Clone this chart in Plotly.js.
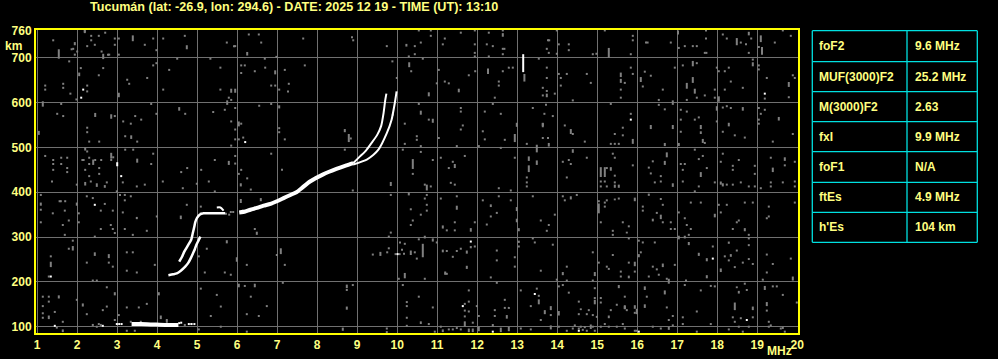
<!DOCTYPE html>
<html>
<head>
<meta charset="utf-8">
<script src="https://cdn.plot.ly/plotly-3.0.1.min.js"></script>
<style>
html,body{margin:0;padding:0;background:#000;}
#chart{width:998px;height:359px;}
</style>
</head>
<body>
<div id="chart"></div>
<script>
// ---------- DATA ----------
const titleText = "Tucumán (lat: -26.9, lon: 294.6) - DATE: 2025 12 19 - TIME (UT): 13:10";
const xTicks = [1,2,3,4,5,6,7,8,9,10,11,12,13,14,15,16,17,18,19,20];
const yTicks = [100,200,300,400,500,600,700,760];

const tableLabels = ["foF2","MUF(3000)F2","M(3000)F2","fxI","foF1","ftEs","h'Es"];
const tableValues = ["9.6 MHz","25.2 MHz","2.63","9.9 MHz","N/A","4.9 MHz","104 km"];

// echo traces (frequency MHz, virtual height km)
const lowAF = [4.28,4.40,4.49,4.59,4.70,4.78,4.84,4.89,4.94,4.98,5.03,5.08];
const lowAH = [215,217,219,225,234,243,253,263,273,283,292,301];
const lowBF = [4.55,4.62,4.68,4.78,4.85,4.89,4.93,4.95,4.99,5.06,5.16,5.41,5.70];
const lowBH = [245,256,268,283,294,309,324,333,342,350,353,353,353];
const curlF = [5.49,5.58,5.66];
const curlH = [366,366,359];
const f2F = [6.05,6.20,6.33,6.49,6.66,6.83,6.99,7.16,7.33,7.48,7.65,7.82,8.15,8.48,8.73,8.90];
const f2H = [355,357,361,365,370,374,380,387,394,400,412,424,440,452,460,465];
const oF = [8.90,9.07,9.22,9.36,9.50,9.60,9.66,9.70,9.73];
const oH = [465,480,493,510,528,548,577,605,620];
const xF = [8.90,9.24,9.40,9.53,9.74,9.86,9.94,9.985];
const xH = [462,473,483,495,532,562,599,625];
const esF = [3.36,3.60,3.90,4.20,4.53];
const esH = [106,106,105,104,104];

const whiteDots = [[2.99,106],[3.05,106],[3.11,106],[4.55,108],[4.60,109],[4.79,106],[4.86,106],[4.93,106],
 [2.15,629],[2.10,611],[6.20,512],[3.10,436],[19.19,620],[15.84,562],[2.44,372],[1.34,212],[1.44,102],
 [10.01,262],[11.84,290],[11.64,146],[12.39,89],[13.44,173],[17.89,252],[18.74,115],[14.54,91],[16.04,89],[2.64,102]];
const whiteSegs = [[3.0,458,467],[13.15,668,708]];

const noiseDots = [
 [2.19,759],[2.35,749],[2.54,749],[2.7,756],[2.94,743],[3.04,743],[3.9,743],[4.15,743],[4.69,749],[1.4,739],[2.35,739],[2.25,726],[2.44,729],[2.94,729],[3.69,729],[5.74,734],[5.92,726],[5.95,726],[6.29,752],[6.54,752],[6.6,734],[1.86,719],[1.9,720],[2.0,714],[1.94,707],[1.8,692],[2.61,714],[2.77,707],[2.8,707],[3.04,707],[3.98,717],[6.98,702],[4.5,698],[5.33,698],[6.69,698],[3.98,688],[3.9,683],[4.3,673],[2.09,677],[2.65,677],[2.54,661],[3.75,655],[3.25,651],[3.3,642],[5.58,678],[6.1,683],[6.19,683],[6.1,666],[6.44,670],[6.7,678],[7.19,673],[1.2,638],[1.2,629],[1.65,642],[1.65,633],[2.25,638],[2.25,625],[1.83,620],[1.98,607],[4.15,629],[5.58,629],[6.85,638],[6.95,638],[7.05,629],[7.29,642],[7.27,625],[5.79,611],[5.85,606],[1.6,597],[1.5,575],[1.65,570],[2.94,570],[3.15,558],[3.45,570],[3.6,562],[3.34,553],[2.25,544],[2.25,534],[3.2,525],[2.3,513],[2.55,513],[3.5,513],[4.7,575],[3.85,597],[3.98,575],[5.4,579],[5.69,584],[5.95,588],[5.85,558],[6.1,553],[5.95,540],[6.15,522],[5.95,518],[6.04,518],[5.85,504],[6.55,593],[6.85,597],[7.05,543],[7.05,534],[7.19,518],[1.2,481],[1.4,472],[1.4,463],[1.4,450],[1.6,477],[1.75,477],[1.6,463],[1.75,454],[1.75,445],[2.25,491],[2.13,472],[2.16,472],[2.3,477],[2.3,463],[2.45,472],[2.6,472],[2.2,450],[2.55,454],[2.3,436],[2.55,441],[2.9,478],[2.85,472],[3.2,495],[3.4,495],[3.9,486],[3.85,463],[4.6,445],[4.75,454],[5.1,450],[5.44,472],[5.95,481],[5.95,464],[6.1,450],[6.04,441],[6.25,431],[6.85,486],[7.12,450],
 [7.65,743],[8.87,746],[8.9,739],[9.74,726],[10.44,726],[10.29,703],[10.44,708],[10.59,734],[10.54,761],[10.84,761],[10.84,749],[11.14,730],[11.19,743],[11.59,756],[11.94,761],[11.94,730],[12.29,756],[12.64,761],[12.24,730],[12.39,726],[11.94,711],[11.94,703],[12.29,703],[12.64,708],[12.64,720],[12.68,720],[7.69,683],[9.88,692],[10.35,670],[10.64,698],[11.04,673],[11.79,661],[11.95,670],[12.54,647],[12.54,638],[12.64,670],[12.79,678],[12.89,678],[13.54,698],[9.99,655],[10.99,643],[11.19,647],[11.29,643],[10.54,597],[11.59,588],[11.59,580],[12.19,580],[12.44,611],[12.39,597],[12.59,575],[13.39,588],[13.64,633],[13.64,616],[9.89,573],[10.19,553],[10.79,562],[11.64,549],[11.59,540],[12.14,536],[12.19,518],[12.69,517],[13.24,508],[13.64,521],[10.49,525],[10.49,517],[11.04,521],[11.49,503],[12.04,503],[10.59,503],[10.19,508],[10.39,441],[10.14,495],[10.59,490],[10.89,472],[11.09,477],[11.39,468],[11.29,454],[11.69,481],[12.59,499],[12.94,477],[13.24,433],[8.69,495],[8.84,520],
 [13.77,739],[13.8,739],[13.74,720],[13.79,711],[13.99,761],[13.99,709],[14.04,730],[14.29,730],[14.29,717],[14.89,708],[14.98,709],[15.19,761],[15.84,708],[15.89,749],[15.89,739],[16.22,734],[16.26,734],[16.84,734],[17.04,722],[17.19,726],[17.39,726],[17.49,726],[17.72,761],[17.72,743],[17.69,711],[17.73,711],[18.14,752],[18.24,743],[18.59,734],[18.85,743],[18.72,730],[18.79,711],[19.04,724],[19.44,734],[19.64,761],[19.84,749],[13.74,678],[13.74,655],[13.74,626],[14.04,664],[14.09,655],[14.24,664],[14.09,638],[13.94,620],[14.39,605],[14.74,664],[14.84,644],[15.69,644],[15.59,629],[15.84,678],[15.89,664],[15.59,611],[16.19,669],[16.14,636],[16.34,660],[16.64,629],[16.54,606],[16.94,678],[17.14,683],[17.49,688],[17.69,616],[17.24,606],[17.49,611],[17.94,629],[17.94,611],[18.04,670],[18.19,670],[18.29,678],[17.99,678],[18.34,647],[18.19,629],[18.64,633],[18.89,696],[19.04,683],[19.04,674],[19.24,655],[19.19,609],[19.89,661],[19.94,655],[19.79,612],[13.72,595],[13.68,575],[13.89,570],[13.77,521],[14.19,549],[14.39,530],[14.69,513],[15.34,597],[15.84,575],[15.64,544],[15.44,530],[15.64,527],[15.34,508],[15.44,508],[15.54,508],[16.54,595],[16.69,585],[17.09,584],[17.24,580],[17.09,562],[17.44,562],[17.54,567],[17.09,535],[17.69,510],[18.14,589],[18.24,592],[18.34,588],[18.14,535],[18.44,527],[18.69,522],[17.99,558],[19.04,588],[19.04,562],[19.09,575],[19.04,553],[19.19,584],[19.39,513],[19.89,530],[14.29,472],[14.14,468],[14.34,463],[14.74,477],[14.24,433],[15.24,454],[15.44,437],[15.39,486],[15.44,477],[15.89,460],[16.39,469],[16.29,455],[16.34,442],[16.59,436],[17.09,463],[17.19,463],[17.14,450],[17.44,495],[17.54,474],[17.64,481],[17.74,454],[18.14,486],[18.09,468],[18.39,459],[18.39,450],[18.54,472],[18.94,459],[18.94,441],[19.34,477],[19.69,460],[19.94,468],
 [1.37,424],[1.99,417],[2.34,424],[2.74,422],[3.14,422],[3.49,413],[3.69,417],[4.14,424],[4.64,409],[4.99,419],[5.29,424],[1.09,394],[1.09,361],[1.09,333],[1.56,380],[1.59,380],[1.7,380],[1.39,353],[1.69,359],[1.64,327],[1.79,337],[2.04,353],[2.04,333],[2.24,391],[2.39,387],[2.69,374],[2.59,359],[2.89,359],[2.99,402],[3.07,394],[3.19,394],[3.19,382],[3.34,391],[3.14,355],[2.84,327],[2.89,318],[2.94,309],[2.59,318],[3.19,318],[3.39,305],[3.74,314],[1.69,305],[2.44,301],[3.99,346],[4.74,372],[5.09,368],[5.09,353],[5.84,356],[6.14,359],[6.44,318],[6.34,406],[5.24,274],[5.04,257],[1.89,292],[1.79,274],[1.34,257],[1.29,212],[2.24,243],[2.79,243],[2.89,234],[3.24,266],[3.39,266],[3.24,225],[3.49,221],[3.94,238],[2.39,203],[2.49,203],[5.09,185],[5.19,221],[5.69,221],[5.84,216],[6.24,238],[6.99,260],[7.19,238],[6.19,191],[6.34,167],[6.74,146],[6.54,124],[7.14,198],[1.14,167],[1.29,167],[1.14,146],[1.29,156],[1.14,130],[1.14,120],[1.44,133],[1.64,111],[1.49,98],[1.99,160],[2.24,128],[2.64,137],[2.74,145],[2.74,188],[3.24,143],[3.54,143],[3.74,151],[4.24,115],[2.94,115],[3.04,126],[3.59,111],[5.49,171],[5.59,145],[6.24,128],[5.04,94],[5.34,124],[5.59,100],[6.24,89],[3.24,91],[3.44,91],[2.39,104],[2.49,100],[2.54,106],[2.59,104],[3.34,111],[4.84,106],[4.69,104],[4.24,111],[5.72,352],[5.80,350],[5.90,356],
 [8.89,404],[9.84,394],[10.69,417],[10.84,413],[10.74,394],[10.69,386],[10.74,372],[10.74,359],[11.34,421],[11.44,417],[11.09,386],[11.49,391],[10.34,362],[10.59,350],[10.39,337],[10.34,327],[11.24,315],[11.44,333],[11.44,315],[11.94,333],[12.14,382],[12.49,354],[12.34,346],[12.24,328],[12.54,409],[12.54,391],[12.84,404],[12.84,382],[13.24,422],[13.24,413],[13.39,391],[13.59,337],[13.39,297],[13.44,288],[9.84,310],[9.79,301],[10.07,288],[10.19,285],[9.39,261],[9.75,266],[9.79,275],[9.96,262],[10.06,262],[10.12,272],[10.17,263],[10.44,266],[10.49,252],[10.54,295],[10.99,288],[11.24,269],[11.39,256],[11.49,269],[11.59,274],[11.94,279],[11.2,218],[11.24,218],[11.2,221],[10.04,207],[10.69,207],[12.49,270],[12.49,248],[12.34,210],[12.49,198],[12.94,255],[12.94,234],[13.04,279],[13.59,225],[8.89,193],[8.74,182],[10.14,193],[10.24,155],[10.24,146],[10.54,167],[10.24,120],[10.24,102],[10.89,143],[10.79,106],[9.74,96],[9.74,88],[10.94,89],[11.09,100],[11.29,94],[11.39,94],[11.49,97],[11.59,94],[11.69,151],[11.69,136],[11.69,123],[11.79,181],[11.79,156],[11.79,134],[11.89,109],[11.99,146],[12.04,124],[12.44,137],[12.44,124],[12.69,160],[12.69,142],[12.79,142],[13.09,181],[13.09,96],[13.34,146],[13.34,94],[13.49,185],[13.59,115],[13.54,169],
 [15.09,424],[15.19,424],[15.09,413],[15.24,413],[15.44,422],[16.44,422],[16.59,424],[17.14,424],[17.54,413],[17.94,422],[18.24,417],[18.39,417],[18.59,422],[18.79,413],[18.94,413],[19.09,409],[19.34,422],[19.34,413],[19.64,422],[19.94,424],[19.94,413],[14.14,391],[14.19,382],[14.49,394],[13.94,350],[13.79,327],[13.74,314],[15.04,380],[15.19,377],[15.19,368],[15.24,382],[15.54,386],[16.14,368],[16.14,359],[16.59,385],[16.64,372],[16.49,354],[16.64,333],[16.84,333],[16.84,318],[16.94,318],[17.04,355],[17.19,342],[17.24,327],[17.34,318],[17.34,377],[17.29,305],[17.44,402],[17.59,377],[18.04,372],[18.09,355],[18.24,372],[18.39,318],[18.49,333],[18.54,337],[18.69,377],[18.79,305],[18.89,377],[19.29,368],[19.29,346],[19.24,342],[19.94,377],[15.09,333],[15.39,314],[15.39,305],[15.64,333],[15.79,324],[15.79,297],[13.89,283],[14.24,234],[14.24,203],[14.14,193],[14.29,176],[14.89,266],[14.89,203],[15.04,243],[15.24,234],[15.29,229],[15.39,260],[15.79,243],[15.94,223],[15.59,223],[15.59,212],[16.04,292],[16.14,288],[16.09,266],[16.44,288],[16.39,234],[16.49,228],[16.54,216],[16.29,212],[16.74,207],[16.94,238],[17.89,279],[18.19,257],[18.29,248],[18.49,270],[18.44,233],[18.64,243],[18.79,251],[18.89,240],[18.79,282],[18.79,297],[19.24,261],[19.24,221],[19.39,240],[19.84,252],[17.84,191],[17.22,203],[17.19,193],[15.69,167],[15.49,149],[15.94,131],[16.24,167],[16.74,143],[16.79,115],[16.89,124],[17.14,121],[17.49,134],[17.59,181],[17.94,190],[18.69,196],[18.74,182],[18.39,121],[18.44,111],[18.59,119],[18.89,121],[19.14,205],[19.39,190],[19.49,190],[19.64,171],[19.24,136],[19.29,111],[19.34,103],[19.99,154],[13.99,205],[14.04,190],[14.54,156],[14.79,137],[14.54,128],[14.74,128],[14.89,126],[14.94,186],[14.94,164],[15.09,164],[15.09,154],[14.99,122],[15.34,137],[15.74,137],[15.19,106],[15.64,106],[13.84,126],[14.04,100],[14.24,91],[14.39,96],[14.44,103],[14.54,96],[14.59,100],[14.64,93],[14.69,99],[14.74,91],[14.89,100],[14.94,91],[15.09,100],[15.29,100],[15.49,100],[15.69,96],[15.94,91],[15.98,91],[16.39,100],[16.59,96],[16.89,103],[17.14,106],[17.49,89],[17.84,106],[18.29,94],[18.54,100],[18.64,89],[18.79,100],[19.29,100],[19.59,96],[19.69,89]
];

const noiseSegs = [
 [2.19,755,762],[3.39,737,750],[1.94,728,735],[4.74,719,728],[1.54,698,719],[2.65,697,709],[6.25,705,713],[2.05,659,667],[6.95,663,672],[3.04,612,622],[5.85,622,631],[5.95,622,631],[5.75,595,605],[1.14,591,603],[2.45,568,577],[2.85,564,574],[3.35,519,527],[4.55,582,590],[6.04,547,558],[7.05,587,594],[1.04,528,537],[2.2,493,500],[2.4,461,473],[2.85,475,488],[3.5,466,475],[5.79,461,470],
 [10.23,725,731],[12.64,747,755],[10.3,679,690],[12.27,664,676],[13.18,647,664],[11.54,623,631],[10.79,614,623],[10.59,573,582],[10.89,555,564],[12.99,546,555],[12.94,512,530],[13.64,545,554],[8.69,534,541],[8.79,512,530],[10.39,452,474],[11.44,454,463],[13.29,470,480],[13.29,445,460],[13.49,489,506],[13.49,461,471],
 [15.29,700,722],[17.02,752,761],[18.49,728,744],[18.79,750,758],[19.09,735,750],[19.12,707,724],[13.74,612,620],[15.59,657,667],[15.59,644,653],[16.09,646,657],[16.89,595,605],[17.39,681,693],[17.24,631,644],[17.39,644,657],[17.44,620,631],[18.04,602,614],[18.89,681,690],[19.79,635,646],[13.64,548,555],[13.79,502,510],[14.34,530,541],[15.89,508,519],[16.34,541,550],[16.89,541,550],[16.69,503,510],[17.59,541,550],[17.59,530,536],[17.64,510,519],[17.04,503,510],[17.99,582,592],[18.64,582,590],[18.29,547,555],[19.54,560,568],[14.39,488,496],[15.09,434,456],[15.19,434,456],[15.34,448,456],[16.74,478,489],[16.69,461,470],[17.59,434,445],[19.39,445,455],[19.69,470,478],
 [2.2,415,423],[2.49,412,420],[2.69,410,416],[5.44,399,404],[6.09,413,420],[1.09,370,377],[1.99,370,377],[3.49,340,345],[4.59,340,348],[6.09,376,385],[6.49,305,312],[6.59,380,387],[5.74,286,293],[1.89,270,280],[1.34,233,245],[2.44,258,266],[2.79,253,262],[5.99,245,255],[7.09,262,275],[6.04,188,196],[6.44,188,196],[1.54,163,170],[1.29,117,125],[1.64,88,94],[2.14,145,152],[2.94,170,177],[4.04,170,177],[4.09,117,125],
 [9.84,414,423],[10.29,393,400],[10.74,404,417],[11.49,361,370],[11.14,319,326],[11.84,312,320],[12.34,367,373],[12.99,358,367],[12.99,333,341],[13.04,313,320],[13.04,287,292],[9.58,258,267],[10.34,260,270],[10.64,255,285],[10.69,297,303],[10.89,290,297],[11.14,266,272],[11.74,263,270],[11.84,275,280],[11.74,229,236],[10.19,208,220],[8.74,186,194],[8.74,138,145],[10.59,106,112],[8.64,91,98],[11.14,88,94],[11.69,100,112],[11.79,88,96],[11.89,88,96],[12.04,90,100],[12.39,100,106],[12.59,88,98],[12.74,118,126],[12.79,90,100],[13.54,150,161],
 [15.44,410,417],[15.54,410,417],[16.89,412,420],[18.09,417,424],[18.14,413,420],[14.34,384,391],[15.04,353,375],[15.44,382,386],[15.94,380,388],[16.29,392,397],[16.59,340,350],[16.39,335,341],[17.94,344,352],[18.69,313,320],[15.74,308,312],[14.14,215,222],[14.94,213,222],[15.94,235,245],[15.79,208,214],[16.04,255,262],[16.64,233,241],[16.79,196,207],[17.04,295,303],[17.19,297,303],[17.29,282,289],[17.54,258,265],[17.74,246,253],[18.09,222,230],[18.29,285,290],[18.34,256,262],[17.74,208,215],[16.69,172,181],[16.19,182,190],[15.54,186,193],[15.69,140,148],[15.94,140,148],[15.99,128,140],[16.19,142,150],[18.49,186,190],[18.54,174,180],[18.44,137,154],[18.89,137,145],[19.19,182,191],[19.24,146,155],[19.89,203,212],[19.64,95,100],[14.59,137,141],[14.94,150,160],[15.29,119,125],[15.69,139,146],[13.69,128,137],[13.84,137,146],[14.04,125,135],[13.84,94,103],[14.84,95,105],[16.79,93,100]
];

// ---------- STYLE / LAYOUT ----------
const FONT = "'Liberation Sans', Arial, sans-serif";
const TXT = "#ffff80";
const GRAY = "#808080";
const CYAN = "#00e0e0";
const L = 36, R = 798, T = 30, B = 333;
const px2x = px => (px - L) / (R - L);
const py2y = py => (B - py) / (B - T);

function segTrace(segs, color, width) {
  const x = [], y = [];
  segs.forEach(s => { x.push(s[0], s[0], null); y.push(s[1], s[2], null); });
  return {x, y, type: 'scatter', mode: 'lines', line: {color, width}, hoverinfo: 'skip', showlegend: false};
}
function dotTrace(pts, color, size) {
  return {x: pts.map(p => p[0]), y: pts.map(p => p[1]), type: 'scatter', mode: 'markers',
    marker: {symbol: 'square', size, color, line: {width: 0}}, hoverinfo: 'skip', showlegend: false};
}
function lineTrace(x, y, width) {
  return {x, y, type: 'scatter', mode: 'lines', line: {color: '#ffffff', width, shape: 'spline', smoothing: 0.6},
    hoverinfo: 'skip', showlegend: false};
}

const traces = [
  dotTrace(noiseDots, GRAY, 2),
  segTrace(noiseSegs, GRAY, 2),
  dotTrace(whiteDots, '#ffffff', 2),
  segTrace(whiteSegs, '#ffffff', 2),
  lineTrace(lowAF, lowAH, 2.5),
  lineTrace(lowBF, lowBH, 2.5),
  lineTrace(curlF, curlH, 2),
  lineTrace(f2F, f2H, 4),
  lineTrace(oF, oH, 2),
  lineTrace(xF, xH, 2),
  lineTrace(esF, esH, 4)
];

const annotations = [
  {text: titleText, xref: 'paper', yref: 'paper', x: px2x(293.5), y: py2y(7), xanchor: 'center', yanchor: 'middle',
   showarrow: false, font: {family: FONT, size: 12.6, color: TXT, weight: 'bold'}},
  {text: 'km', xref: 'paper', yref: 'paper', x: px2x(13.5), y: py2y(45.5), xanchor: 'center', yanchor: 'middle',
   showarrow: false, font: {family: FONT, size: 12, color: TXT, weight: 'bold'}},
  {text: 'MHz', xref: 'paper', yref: 'paper', x: px2x(779.5), y: py2y(351), xanchor: 'center', yanchor: 'middle',
   showarrow: false, font: {family: FONT, size: 12, color: TXT, weight: 'bold'}}
];

const rowLines = [30.7, 61.7, 91.7, 121.7, 151.7, 182.3, 212.3, 242.3];
const tL = 812.3, tM = 907, tR = 977.3;
const shapes = [];
rowLines.forEach(py => shapes.push({type: 'line', xref: 'paper', yref: 'paper', x0: px2x(tL), x1: px2x(tR),
  y0: py2y(py), y1: py2y(py), line: {color: CYAN, width: 1.3}}));
[tL, tM, tR].forEach(px => shapes.push({type: 'line', xref: 'paper', yref: 'paper', x0: px2x(px), x1: px2x(px),
  y0: py2y(rowLines[0]), y1: py2y(rowLines[rowLines.length - 1]), line: {color: CYAN, width: 1.3}}));
tableLabels.forEach((lab, i) => {
  const yc = (rowLines[i] + rowLines[i + 1]) / 2;
  annotations.push({text: lab, xref: 'paper', yref: 'paper', x: px2x(817), y: py2y(yc), xanchor: 'left', yanchor: 'middle',
    showarrow: false, font: {family: FONT, size: 12, color: TXT, weight: 'bold'}});
  annotations.push({text: tableValues[i], xref: 'paper', yref: 'paper', x: px2x(912.5), y: py2y(yc), xanchor: 'left', yanchor: 'middle',
    showarrow: false, font: {family: FONT, size: 12, color: TXT, weight: 'bold'}});
});

const layout = {
  width: 998, height: 359,
  margin: {l: L, r: 998 - R, t: T, b: 359 - B, pad: 0},
  paper_bgcolor: '#000000', plot_bgcolor: '#000000',
  showlegend: false,
  xaxis: {range: [0.97, 20.02], tickvals: xTicks, ticktext: xTicks.map(String), showgrid: true, gridcolor: '#707070', gridwidth: 1,
    zeroline: false, showline: true, linecolor: '#ffff00', linewidth: 2, mirror: true, ticks: '',
    tickfont: {family: FONT, size: 12, color: TXT, weight: 'bold'}, fixedrange: true},
  yaxis: {range: [86, 762], tickvals: yTicks, ticktext: yTicks.map(String), showgrid: true, gridcolor: '#707070', gridwidth: 1,
    zeroline: false, showline: true, linecolor: '#ffff00', linewidth: 2, mirror: true, ticks: '',
    tickfont: {family: FONT, size: 12, color: TXT, weight: 'bold'}, fixedrange: true},
  annotations, shapes
};

Plotly.newPlot('chart', traces, layout, {staticPlot: true, displayModeBar: false});
</script>
</body>
</html>
